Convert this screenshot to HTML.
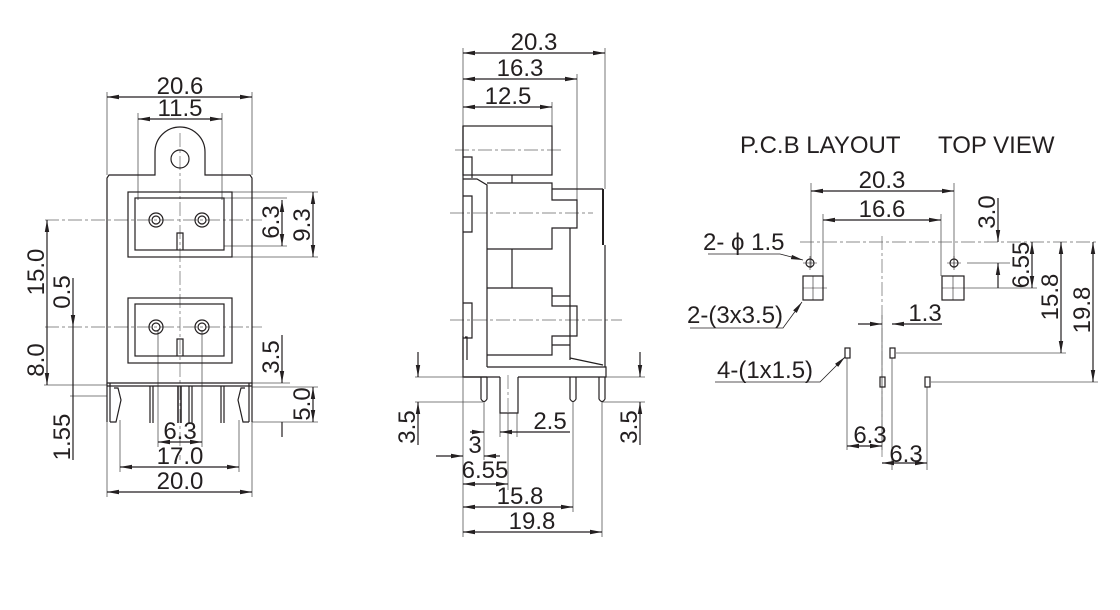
<!DOCTYPE html>
<html><head><meta charset="utf-8"><style>
html,body{margin:0;padding:0;background:#fff;}
svg{display:block;}
text{font-family:"Liberation Sans",sans-serif;font-size:24px;fill:#231f20;}
</style></head><body>
<svg width="1120" height="610" viewBox="0 0 1120 610" xmlns="http://www.w3.org/2000/svg">
<defs>
<marker id="a" viewBox="0 0 12 6" refX="12" refY="3" markerWidth="12" markerHeight="6" orient="auto-start-reverse" markerUnits="userSpaceOnUse"><path d="M0,0.8 L12,3 L0,5.2z" fill="#231f20"/></marker>
</defs>
<g fill="none" stroke="#231f20" stroke-width="1.2">
<!-- ===== FRONT VIEW ===== -->
<g stroke-width="0.8" stroke="#555">
<line x1="107" y1="92" x2="107" y2="175"/><line x1="252" y1="92" x2="252" y2="175"/>
<line x1="138" y1="113" x2="138" y2="200"/><line x1="222" y1="113" x2="222" y2="200"/>
<line x1="224" y1="198" x2="287" y2="198"/><line x1="224" y1="246" x2="287" y2="246"/>
<line x1="232" y1="192" x2="318" y2="192"/><line x1="232" y1="257" x2="318" y2="257"/>
<line x1="44" y1="385" x2="107" y2="385"/>
<line x1="70" y1="396" x2="107" y2="396"/>
<line x1="252" y1="387" x2="318" y2="387"/><line x1="252" y1="422" x2="318" y2="422"/>
<line x1="252" y1="383" x2="290" y2="383"/>
<line x1="158" y1="330" x2="158" y2="447"/><line x1="202" y1="330" x2="202" y2="447"/>
<line x1="120" y1="420" x2="120" y2="472"/><line x1="239" y1="420" x2="239" y2="472"/>
<line x1="107" y1="422" x2="107" y2="497"/><line x1="252" y1="422" x2="252" y2="497"/>
</g>
<g stroke-dasharray="14,3,3,3" stroke-width="0.7" stroke="#666">
<line x1="45" y1="220" x2="262" y2="220"/><line x1="45" y1="327" x2="262" y2="327"/>
<line x1="180" y1="133" x2="180" y2="460"/>
</g>
<line x1="107" y1="97" x2="252" y2="97" marker-start="url(#a)" marker-end="url(#a)"/>
<line x1="138" y1="119" x2="222" y2="119" marker-start="url(#a)" marker-end="url(#a)"/>
<line x1="282" y1="200" x2="282" y2="246" marker-start="url(#a)" marker-end="url(#a)"/>
<line x1="313" y1="192" x2="313" y2="257" marker-start="url(#a)" marker-end="url(#a)"/>
<line x1="47" y1="220" x2="47" y2="385" marker-start="url(#a)" marker-end="url(#a)"/>
<line x1="73" y1="278" x2="73" y2="327" marker-end="url(#a)"/>
<line x1="73" y1="327" x2="73" y2="460"/>
<line x1="282" y1="335" x2="282" y2="383" marker-end="url(#a)"/>
<line x1="313" y1="387" x2="313" y2="422" marker-start="url(#a)" marker-end="url(#a)"/>
<line x1="282" y1="422" x2="282" y2="437"/>
<line x1="158" y1="442" x2="202" y2="442" marker-start="url(#a)" marker-end="url(#a)"/>
<line x1="120" y1="467" x2="239" y2="467" marker-start="url(#a)" marker-end="url(#a)"/>
<line x1="107" y1="492" x2="252" y2="492" marker-start="url(#a)" marker-end="url(#a)"/>
<path d="M155,175 L155,152 A25,25 0 0 1 205,152 L205,175 L250,175 L252,178 L252,383 L107,383 L107,178 L109,175 Z"/>
<circle cx="180" cy="159" r="9"/>
<rect x="128" y="192" width="104" height="65"/>
<rect x="135" y="198" width="89" height="52"/>
<path d="M177,250 V233 H183 V250"/>
<circle cx="156" cy="220" r="7"/><circle cx="156" cy="220" r="4"/>
<circle cx="202" cy="220" r="7"/><circle cx="202" cy="220" r="4"/>
<rect x="128" y="298" width="104" height="65"/>
<rect x="135" y="304" width="89" height="52"/>
<path d="M177,356 V339 H183 V356"/>
<circle cx="156" cy="327" r="7"/><circle cx="156" cy="327" r="4"/>
<circle cx="202" cy="327" r="7"/><circle cx="202" cy="327" r="4"/>
<line x1="107" y1="386" x2="252" y2="386"/>
<line x1="107" y1="383" x2="107" y2="422"/><line x1="252" y1="383" x2="252" y2="422"/>
<line x1="110" y1="383" x2="110" y2="422"/><line x1="249" y1="383" x2="249" y2="422"/>
<path d="M110,422 H116 L121,400 L118,388 H114"/>
<path d="M249,422 H243 L238,400 L241,388 H245"/>
<path d="M150,386 V423 M153,386 V423"/>
<path d="M178,386 V423 M181,386 V423" stroke-width="1.5"/>
<path d="M189,386 V423 M192,386 V423"/>
<path d="M221,386 V423 M224,386 V423"/>
</g>
<text x="180" y="94" text-anchor="middle">20.6</text>
<text x="180" y="116" text-anchor="middle">11.5</text>
<text x="180" y="439" text-anchor="middle">6.3</text>
<text x="180" y="464" text-anchor="middle">17.0</text>
<text x="180" y="489" text-anchor="middle">20.0</text>
<text transform="translate(44,272) rotate(-90)" text-anchor="middle">15.0</text>
<text transform="translate(70,292) rotate(-90)" text-anchor="middle">0.5</text>
<text transform="translate(44,360) rotate(-90)" text-anchor="middle">8.0</text>
<text transform="translate(70,437) rotate(-90)" text-anchor="middle">1.55</text>
<text transform="translate(279,222) rotate(-90)" text-anchor="middle">6.3</text>
<text transform="translate(310,225) rotate(-90)" text-anchor="middle">9.3</text>
<text transform="translate(279,357) rotate(-90)" text-anchor="middle">3.5</text>
<text transform="translate(310,404) rotate(-90)" text-anchor="middle">5.0</text>

<!-- ===== SIDE VIEW ===== -->
<g fill="none" stroke="#231f20" stroke-width="1.2">
<g stroke-width="0.8" stroke="#555">
<line x1="463" y1="48" x2="463" y2="126"/><line x1="605" y1="48" x2="605" y2="189"/>
<line x1="577" y1="74" x2="577" y2="200"/><line x1="552" y1="102" x2="552" y2="126"/>
<line x1="415" y1="377" x2="463" y2="377"/><line x1="415" y1="402" x2="483" y2="402"/>
<line x1="606" y1="377" x2="645" y2="377"/><line x1="602" y1="402" x2="645" y2="402"/>
<line x1="463" y1="377" x2="463" y2="537"/><line x1="602" y1="402" x2="602" y2="537"/>
<line x1="573" y1="402" x2="573" y2="512"/><line x1="484" y1="402" x2="484" y2="460"/>
<line x1="500" y1="413" x2="500" y2="437"/><line x1="517" y1="413" x2="517" y2="437"/>
<line x1="508" y1="413" x2="508" y2="490"/>
</g>
<g stroke-dasharray="14,3,3,3" stroke-width="0.7" stroke="#666">
<line x1="455" y1="150" x2="563" y2="150"/><line x1="450" y1="213" x2="593" y2="213"/>
<line x1="450" y1="320" x2="622" y2="320"/>
<line x1="508" y1="375" x2="508" y2="415"/>
</g>
<line x1="463" y1="53" x2="605" y2="53" marker-start="url(#a)" marker-end="url(#a)"/>
<line x1="463" y1="79" x2="577" y2="79" marker-start="url(#a)" marker-end="url(#a)"/>
<line x1="463" y1="107" x2="552" y2="107" marker-start="url(#a)" marker-end="url(#a)"/>
<line x1="418" y1="352" x2="418" y2="377" marker-end="url(#a)"/>
<line x1="418" y1="402" x2="418" y2="445" marker-start="url(#a)"/>
<line x1="640" y1="352" x2="640" y2="377" marker-end="url(#a)"/>
<line x1="640" y1="402" x2="640" y2="445" marker-start="url(#a)"/>
<line x1="470" y1="432" x2="484" y2="432" marker-end="url(#a)"/>
<line x1="520" y1="432" x2="500" y2="432" marker-end="url(#a)"/>
<line x1="520" y1="432" x2="570" y2="432"/>
<line x1="436" y1="456" x2="463" y2="456" marker-end="url(#a)"/>
<line x1="500" y1="456" x2="484" y2="456" marker-end="url(#a)"/>
<line x1="463" y1="484" x2="508" y2="484" marker-start="url(#a)" marker-end="url(#a)"/>
<line x1="463" y1="507" x2="573" y2="507" marker-start="url(#a)" marker-end="url(#a)"/>
<line x1="463" y1="532" x2="602" y2="532" marker-start="url(#a)" marker-end="url(#a)"/>
<rect x="463" y="126" width="89" height="49"/>
<path d="M463,157 H472 V178"/>
<path d="M463,126 V377 H487 M463,179 H477 L487,185 V367"/>
<path d="M487,183 H552 V200 H577 V228 H552 V249 H487"/>
<line x1="512" y1="175" x2="512" y2="183"/><line x1="512" y1="249" x2="512" y2="288"/>
<path d="M487,288 H552 V306 H577 V336 H552 V355 H487"/>
<path d="M552,296 H570 M552,345 H570"/>
<path d="M552,189 H603 M570,228 V360"/>
<path d="M603,189 V245" stroke-width="2"/>
<path d="M605,245 V367"/>
<path d="M570,358 L603,365"/>
<path d="M463,196 H472 V232 H463 M463,303 H472 V338 H463 M463,336 V360"/>
<path d="M465,337 H467 V360"/>
<path d="M487,367 H606 V377 H518 M500,377 H464"/>
<path d="M500,377 V413 H518 V377"/>
<path d="M481,377 V399 Q484,404 487,399 V377"/>
<path d="M570,377 V399 Q573,404 576,399 V377"/>
<path d="M599,377 V399 Q602,404 605,399 V377"/>
</g>
<text x="534" y="50" text-anchor="middle">20.3</text>
<text x="520" y="76" text-anchor="middle">16.3</text>
<text x="508" y="104" text-anchor="middle">12.5</text>
<text x="550" y="429" text-anchor="middle">2.5</text>
<text x="475" y="453" text-anchor="middle">3</text>
<text x="485" y="478" text-anchor="middle">6.55</text>
<text x="520" y="504" text-anchor="middle">15.8</text>
<text x="532" y="529" text-anchor="middle">19.8</text>
<text transform="translate(415,427) rotate(-90)" text-anchor="middle">3.5</text>
<text transform="translate(637,427) rotate(-90)" text-anchor="middle">3.5</text>

<!-- ===== PCB LAYOUT ===== -->
<g fill="none" stroke="#231f20" stroke-width="1.2">
<g stroke-width="0.8" stroke="#555">
<line x1="811" y1="183" x2="811" y2="268"/><line x1="954" y1="183" x2="954" y2="268"/>
<line x1="823" y1="214" x2="823" y2="276"/><line x1="941" y1="214" x2="941" y2="276"/>
<line x1="967" y1="263" x2="1010" y2="263"/><line x1="967" y1="288" x2="1037" y2="288"/>
<line x1="896" y1="353" x2="1066" y2="353"/><line x1="931" y1="382" x2="1098" y2="382"/>
<line x1="847" y1="358" x2="847" y2="450"/><line x1="892" y1="358" x2="892" y2="470"/>
<line x1="927" y1="387" x2="927" y2="470"/><line x1="882" y1="315" x2="882" y2="450"/>
</g>
<g stroke-dasharray="14,3,3,3" stroke-width="0.7" stroke="#666">
<line x1="800" y1="242" x2="1098" y2="242"/><line x1="882" y1="236" x2="882" y2="460"/>
</g>
<line x1="811" y1="191" x2="954" y2="191" marker-start="url(#a)" marker-end="url(#a)"/>
<line x1="823" y1="220" x2="941" y2="220" marker-start="url(#a)" marker-end="url(#a)"/>
<line x1="998" y1="198" x2="998" y2="242" marker-end="url(#a)"/>
<line x1="998" y1="263" x2="998" y2="288" marker-start="url(#a)"/>
<line x1="1032" y1="242" x2="1032" y2="288" marker-start="url(#a)" marker-end="url(#a)"/>
<line x1="1061" y1="242" x2="1061" y2="353" marker-start="url(#a)" marker-end="url(#a)"/>
<line x1="1093" y1="242" x2="1093" y2="382" marker-start="url(#a)" marker-end="url(#a)"/>
<line x1="858" y1="324" x2="882" y2="324" marker-end="url(#a)"/>
<line x1="942" y1="324" x2="892" y2="324" marker-end="url(#a)"/>
<line x1="847" y1="446" x2="882" y2="446" marker-start="url(#a)" marker-end="url(#a)"/>
<line x1="882" y1="463" x2="927" y2="463" marker-start="url(#a)" marker-end="url(#a)"/>
<circle cx="810" cy="263" r="4"/><path d="M803,263 H817 M810,256 V270" stroke-width="0.6"/>
<circle cx="954" cy="263" r="4"/><path d="M947,263 H961 M954,256 V270" stroke-width="0.6"/>
<rect x="803" y="276" width="20" height="24"/><path d="M803,288 H827 M813,276 V300" stroke-width="0.6"/>
<rect x="942" y="276" width="22" height="24"/><path d="M942,288 H967 M953,276 V300" stroke-width="0.6"/>
<rect x="845" y="348" width="5" height="10"/><rect x="890" y="348" width="5" height="10"/>
<rect x="880" y="377" width="5" height="10"/><rect x="925" y="377" width="5" height="10"/>
<path d="M708,254 H780 L803,260" stroke-width="0.8" marker-end="url(#a)"/>
<path d="M690,328 H783 L802,302" stroke-width="0.8" marker-end="url(#a)"/>
<path d="M715,382 H820 L845,357" stroke-width="0.8" marker-end="url(#a)"/>
</g>
<text x="740" y="153" font-size="25">P.C.B LAYOUT</text>
<text x="938" y="153" font-size="25">TOP VIEW</text>
<text x="882" y="188" text-anchor="middle">20.3</text>
<text x="882" y="217" text-anchor="middle">16.6</text>
<text x="925" y="321" text-anchor="middle">1.3</text>
<text x="870" y="443" text-anchor="middle">6.3</text>
<text x="906" y="462" text-anchor="middle">6.3</text>
<text x="703" y="250">2- ϕ 1.5</text>
<text x="687" y="323">2-(3x3.5)</text>
<text x="717" y="378">4-(1x1.5)</text>
<text transform="translate(995,212) rotate(-90)" text-anchor="middle">3.0</text>
<text transform="translate(1029,265) rotate(-90)" text-anchor="middle">6.55</text>
<text transform="translate(1058,297) rotate(-90)" text-anchor="middle">15.8</text>
<text transform="translate(1090,310) rotate(-90)" text-anchor="middle">19.8</text>
</svg>
</body></html>
